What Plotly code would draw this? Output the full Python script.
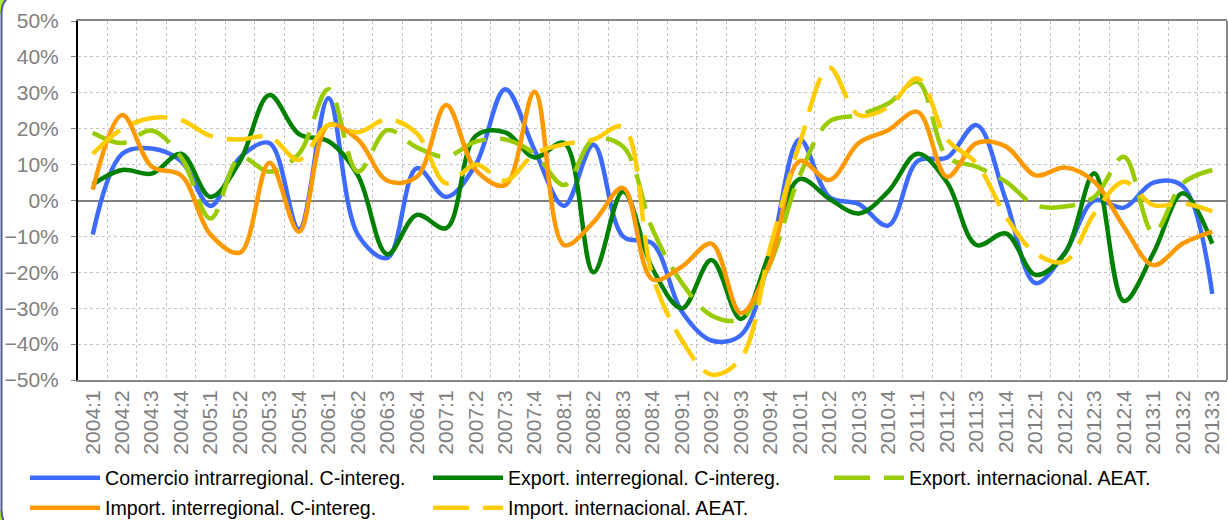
import plotly.graph_objects as go

categories = ["2004:1", "2004:2", "2004:3", "2004:4", "2005:1", "2005:2", "2005:3", "2005:4",
              "2006:1", "2006:2", "2006:3", "2006:4", "2007:1", "2007:2", "2007:3", "2007:4",
              "2008:1", "2008:2", "2008:3", "2008:4", "2009:1", "2009:2", "2009:3", "2009:4",
              "2010:1", "2010:2", "2010:3", "2010:4", "2011:1", "2011:2", "2011:3", "2011:4",
              "2012:1", "2012:2", "2012:3", "2012:4", "2013:1", "2013:2", "2013:3"]

comercio_intra = [-9.5, 13, 14.5, 11, -1.5, 12, 16, -8, 28.5, -9.5, -16, 9, 1, 10, 31, 14,
                  -1.5, 15.5, -10, -12, -31, -39, -37.5, -15, 17, 1, -1, -7, 11, 12, 21, 0,
                  -23, -14.5, 0, -2, 5, 4, -26]

export_inter = [4.5, 8.5, 7.5, 13, 1, 11, 29.4, 18.5, 16.5, 7, -15, -4, -7.7, 18, 19, 12,
                16, -20, 2.5, -19, -30, -16.6, -33, -14, 6, 0.5, -3.6, 2.5, 13, 5, -12.4, -9.2,
                -20.7, -14.7, 7.6, -28, -14.7, 2, -12]

export_intl = [18.9, 16, 19.5, 12, -5, 12, 8, 13, 31, 8, 19.6, 14.8, 12.2, 16.4, 17, 13,
               4.3, 17, 15, -8, -23, -32, -33, -17.5, 7, 22, 23.8, 27, 33, 12.2, 9.4, 5.2,
               -1.3, -1.7, 1, 12.2, -9, 4.8, 8.5]

import_inter = [3, 23.8, 9.5, 7, -9.5, -14.5, 10.5, -8.7, 21, 17, 5.5, 6.6, 26.6, 8.5, 4.3, 30.3,
                -12.4, -6, 3.5, -22, -18.4, -12, -31.4, -17, 11, 5.7, 16, 19.6, 24.7, 6.6, 16, 15,
                7, 9.2, 5.2, -7.3, -18, -12, -8.7]

import_intl = [13, 20, 23, 22.4, 18, 17, 17.8, 11.3, 21, 19, 22.6, 18.7, 4.8, 10, 5.5, 13,
               15.7, 17, 20.5, -21, -39, -48.5, -44, -13, 16, 37, 23.8, 26, 34, 17, 10.3, -4.5,
               -14.7, -17, -3.6, 5.2, -1.3, -0.8, -3]

series_names = ["Comercio intrarregional. C-intereg.", "Export. interregional. C-intereg.",
                "Export. internacional. AEAT.", "Import. interregional. C-intereg.",
                "Import. internacional. AEAT."]
series_values = [comercio_intra, export_inter, export_intl, import_inter, import_intl]
series_colors = ["#3D6BFF", "#008000", "#99CC00", "#FF9900", "#FFCC00"]
series_dash = ["solid", "solid", "36px,14px", "solid", "36px,14px"]

# legend grid placement: (left px of legend, centre px of row)
legend_slots = [(25, 478), (428, 478), (829, 478), (25, 508), (428, 508)]

FONT = "Liberation Sans, Arial, sans-serif"

fig = go.Figure()
legend_layout = {}
for k, (name, vals, color, dash) in enumerate(zip(series_names, series_values,
                                                  series_colors, series_dash)):
    leg = "legend" if k == 0 else f"legend{k + 1}"
    fig.add_trace(go.Scatter(
        x=categories, y=vals, name=name, mode="lines", showlegend=True,
        line=dict(color=color, width=4.5, dash=dash, shape="spline", smoothing=1.0),
        legend=leg,
    ))
    lx, ly = legend_slots[k]
    legend_layout[leg] = dict(
        orientation="h", xref="container", yref="container",
        x=lx / 1228, y=1 - ly / 520, xanchor="left", yanchor="middle",
        font=dict(size=19.6, family=FONT, color="black"),
        itemwidth=70, bgcolor="rgba(0,0,0,0)", visible=True)

# plot-area geometry (pixels) for decorations
L, R, T, B = 78, 1227, 21, 380
W, H = R - L, B - T
def xp(px):
    return (px - L) / W
def yp(py):
    return (B - py) / H

corner_fill = "#B5E332"
border_col = "#4F5B9B"
tl_fill = (f"M{xp(-5)},{yp(-10)} L{xp(-5)},{yp(14)} L{xp(1.5)},{yp(14)} "
           f"Q{xp(1.5)},{yp(-6)} {xp(21.5)},{yp(-6)} L{xp(21.5)},{yp(-10)} Z")
bl_fill = (f"M{xp(-5)},{yp(535)} L{xp(-5)},{yp(510)} L{xp(1.5)},{yp(510)} "
           f"Q{xp(1.5)},{yp(530)} {xp(21.5)},{yp(530)} L{xp(21.5)},{yp(535)} Z")
border = (f"M{xp(21.5)},{yp(-6)} Q{xp(1.5)},{yp(-6)} {xp(1.5)},{yp(14)} "
          f"L{xp(1.5)},{yp(510)} Q{xp(1.5)},{yp(530)} {xp(21.5)},{yp(530)}")

shapes = [
    dict(type="path", xref="paper", yref="paper", path=tl_fill, fillcolor=corner_fill,
         line=dict(width=0)),
    dict(type="path", xref="paper", yref="paper", path=bl_fill, fillcolor=corner_fill,
         line=dict(width=0)),
    dict(type="path", xref="paper", yref="paper", path=border,
         line=dict(color=border_col, width=2)),
    dict(type="line", xref="paper", yref="paper", x0=1, x1=1, y0=0, y1=1,
         line=dict(color="#868686", width=2)),
]

fig.update_layout(
    width=1228, height=520, autosize=False, showlegend=True,
    margin=dict(l=L, r=1228 - R, t=T, b=520 - B, pad=0, autoexpand=False),
    paper_bgcolor="white", plot_bgcolor="white",
    font=dict(family=FONT, color="black"),
    shapes=shapes,
    xaxis=dict(
        type="category", range=[-0.5, len(categories) - 0.5],
        tickson="boundaries", ticks="", showgrid=True,
        gridcolor="#C4C4C4", griddash="dot", gridwidth=1,
        tickangle=-90, tickfont=dict(size=21, color="#808080", family=FONT),
        showline=True, linecolor="#868686", linewidth=2, mirror=True,
        automargin=False,
    ),
    yaxis=dict(
        range=[-50, 50], dtick=10, ticksuffix="%",
        showgrid=True, gridcolor="#C4C4C4", griddash="dot", gridwidth=1,
        zeroline=True, zerolinecolor="#808080", zerolinewidth=1.5,
        showline=True, linecolor="black", linewidth=2,
        ticks="outside", ticklen=5, tickcolor="#808080",
        tickfont=dict(size=21, color="#808080", family=FONT),
        ticklabelstandoff=8, automargin=False,
    ),
    **legend_layout,
)

fig.write_html("out.html", config={"displayModeBar": False},
               post_script="document.body.style.margin='0';document.body.style.padding='0';")
